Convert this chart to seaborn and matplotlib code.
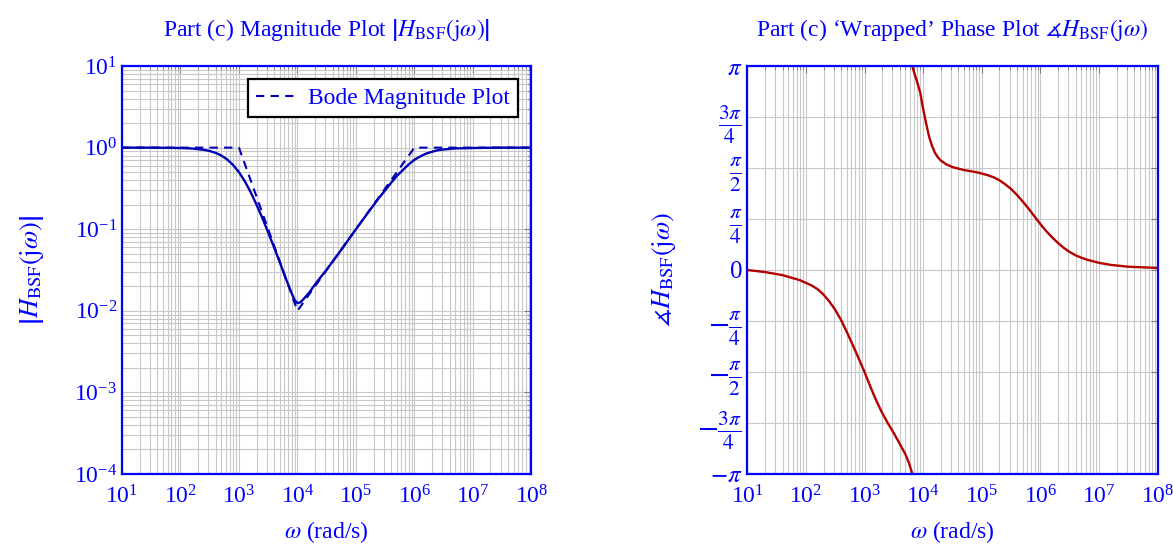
import numpy as np
import matplotlib
matplotlib.use("Agg")
import matplotlib.pyplot as plt
import seaborn as sns

# magnitude curve: log10(omega) and |H|
mag_logw = [1.0, 1.5, 2.0, 2.2, 2.4, 2.5, 2.6, 2.7, 2.8, 2.9, 3.0, 3.1, 3.2, 3.3, 3.4,
            3.5, 3.6, 3.7, 3.8, 3.9, 3.95, 4.0, 4.05, 4.1, 4.2, 4.3, 4.4, 4.5, 4.6,
            4.7, 4.8, 5.0, 5.2, 5.4, 5.5, 5.6, 5.7, 5.8, 5.9, 6.0, 6.1, 6.2, 6.3,
            6.4, 6.5, 6.7, 7.0, 7.5, 8.0]
mag_vals = [1.0, 1.0, 0.99, 0.975, 0.94, 0.91, 0.863, 0.80, 0.715, 0.613, 0.50, 0.387, 0.285, 0.20, 0.137,
            0.091, 0.060, 0.039, 0.025, 0.0165, 0.0136, 0.0124, 0.0127, 0.0138, 0.0167, 0.021, 0.026, 0.032, 0.040,
            0.050, 0.063, 0.10, 0.157, 0.245, 0.30, 0.37, 0.45, 0.53, 0.62, 0.71, 0.78, 0.845, 0.89,
            0.93, 0.95, 0.978, 0.99, 1.0, 1.0]

# straight-line Bode approximation
bode_omega = [1e1, 1e3, 1e4, 1e6, 1e8]
bode_vals = [1.0, 1.0, 0.01, 1.0, 1.0]

# wrapped phase in units of pi, two branches
ph1_logw = [1.0, 1.3, 1.6, 1.9, 2.1, 2.2, 2.3, 2.4, 2.5, 2.6, 2.7, 2.8, 2.9, 3.0, 3.1,
            3.2, 3.3, 3.4, 3.5, 3.6, 3.7, 3.76, 3.815]
ph1_vals = [0.0, -0.01, -0.025, -0.05, -0.076, -0.094, -0.12, -0.154, -0.195, -0.245, -0.305, -0.368, -0.433, -0.5, -0.572,
            -0.64, -0.70, -0.752, -0.80, -0.852, -0.905, -0.948, -1.0]
ph2_logw = [3.815, 3.85, 3.9, 3.95, 4.0, 4.05, 4.1, 4.15, 4.2, 4.25, 4.3, 4.4, 4.5, 4.6,
            4.7, 4.8, 4.9, 5.0, 5.1, 5.2, 5.3, 5.4, 5.5, 5.6, 5.7, 5.8, 5.9, 6.0,
            6.1, 6.2, 6.3, 6.4, 6.5, 6.6, 6.7, 6.8, 7.0, 7.2, 7.5, 8.0]
ph2_vals = [1.0, 0.965, 0.92, 0.87, 0.79, 0.72, 0.655, 0.61, 0.575, 0.553, 0.537, 0.517, 0.505, 0.497,
            0.49, 0.485, 0.48, 0.473, 0.465, 0.455, 0.44, 0.42, 0.397, 0.368, 0.335, 0.30, 0.262, 0.225,
            0.19, 0.16, 0.132, 0.108, 0.088, 0.072, 0.06, 0.05, 0.035, 0.025, 0.016, 0.01]

phase_ticks = [-1, -0.75, -0.5, -0.25, 0, 0.25, 0.5, 0.75, 1]
phase_ticklabels = [r'$-\pi$', r'$-\frac{3\pi}{4}$', r'$-\frac{\pi}{2}$', r'$-\frac{\pi}{4}$', '0',
                    r'$\frac{\pi}{4}$', r'$\frac{\pi}{2}$', r'$\frac{3\pi}{4}$', r'$\pi$']

sns.set_style("white")
plt.rcParams['font.family'] = ['Liberation Serif', 'DejaVu Serif']
plt.rcParams['mathtext.fontset'] = 'stix'

blue = '#0000ff'
navy = '#0000b3'
dred = '#b30000'
gridc = '#c8c8c8'

fig = plt.figure(figsize=(11.73, 5.46), dpi=100)
ax1 = fig.add_axes([0.104, 0.132, 0.349, 0.747])
ax2 = fig.add_axes([0.637, 0.132, 0.350, 0.747])

# magnitude plot
ax1.set(xscale='log', yscale='log')
sns.lineplot(x=10 ** np.array(mag_logw), y=mag_vals, ax=ax1, color=navy, lw=1.7, sort=False)
sns.lineplot(x=bode_omega, y=bode_vals, ax=ax1, color=navy, lw=1.5, ls=(0, (4, 3)),
             sort=False, label='Bode Magnitude Plot')
ax1.set_xlim(1e1, 1e8)
ax1.set_ylim(1e-4, 1e1)
ax1.yaxis.set_major_locator(matplotlib.ticker.LogLocator(base=10, numticks=10))
ax1.yaxis.set_minor_locator(matplotlib.ticker.LogLocator(base=10, subs=np.arange(2, 10), numticks=20))
ax1.xaxis.set_major_locator(matplotlib.ticker.LogLocator(base=10, numticks=10))
ax1.xaxis.set_minor_locator(matplotlib.ticker.LogLocator(base=10, subs=np.arange(2, 10), numticks=20))
ax1.grid(True, which='both', color=gridc, lw=0.8)
ax1.set_title(r'Part (c) Magnitude Plot $\left|H_{\mathrm{BSF}}(\mathrm{j}\omega)\right|$',
              color=blue, fontsize=17, pad=22)
ax1.set_ylabel(r'$\left|H_{\mathrm{BSF}}(\mathrm{j}\omega)\right|$', color=blue, fontsize=19, labelpad=20)
ax1.set_xlabel(r'$\omega$ (rad/s)', color=blue, fontsize=17, labelpad=8)
leg = ax1.legend(loc='upper right', fontsize=17, fancybox=False, framealpha=1,
                 handlelength=1.7, borderpad=0.35, borderaxespad=0.55, handletextpad=0.5)
leg.get_frame().set_edgecolor('black')
leg.get_frame().set_linewidth(1.6)
for t in leg.get_texts():
    t.set_color(blue)

# phase plot
ax2.set(xscale='log')
sns.lineplot(x=10 ** np.array(ph1_logw), y=np.array(ph1_vals) * np.pi, ax=ax2, color=dred, lw=1.7, sort=False)
sns.lineplot(x=10 ** np.array(ph2_logw), y=np.array(ph2_vals) * np.pi, ax=ax2, color=dred, lw=1.7, sort=False)
ax2.set_xlim(1e1, 1e8)
ax2.set_ylim(-np.pi, np.pi)
ax2.xaxis.set_major_locator(matplotlib.ticker.LogLocator(base=10, numticks=10))
ax2.xaxis.set_minor_locator(matplotlib.ticker.LogLocator(base=10, subs=np.arange(2, 10), numticks=20))
ax2.set_yticks(np.array(phase_ticks) * np.pi)
ax2.grid(True, which='major', color=gridc, lw=0.8)
ax2.grid(True, which='minor', axis='x', color=gridc, lw=0.8)
ax2.set_title(r'Part (c) ‘Wrapped’ Phase Plot $\measuredangle H_{\mathrm{BSF}}(\mathrm{j}\omega)$',
              color=blue, fontsize=17, pad=22)
ax2.set_ylabel(r'$\measuredangle H_{\mathrm{BSF}}(\mathrm{j}\omega)$', color=blue, fontsize=19, labelpad=14)
ax2.set_xlabel(r'$\omega$ (rad/s)', color=blue, fontsize=17, labelpad=8)

for ax in (ax1, ax2):
    for s in ax.spines.values():
        s.set_color(blue)
        s.set_linewidth(1.6)
    ax.tick_params(which='both', direction='in', top=True, right=True, colors='#808080',
                   labelcolor=blue, labelsize=17)
    ax.tick_params(which='major', length=5)
    ax.tick_params(which='minor', length=3)
    ax.tick_params(axis='x', pad=8)
    ax.set_axisbelow(True)

# fractions drawn larger than the plain labels
ylabs = ax2.set_yticklabels(phase_ticklabels)
for lab, txt in zip(ylabs, phase_ticklabels):
    lab.set_fontsize(22 if 'frac' in txt else 18)

fig.savefig('out.png', dpi=100)
